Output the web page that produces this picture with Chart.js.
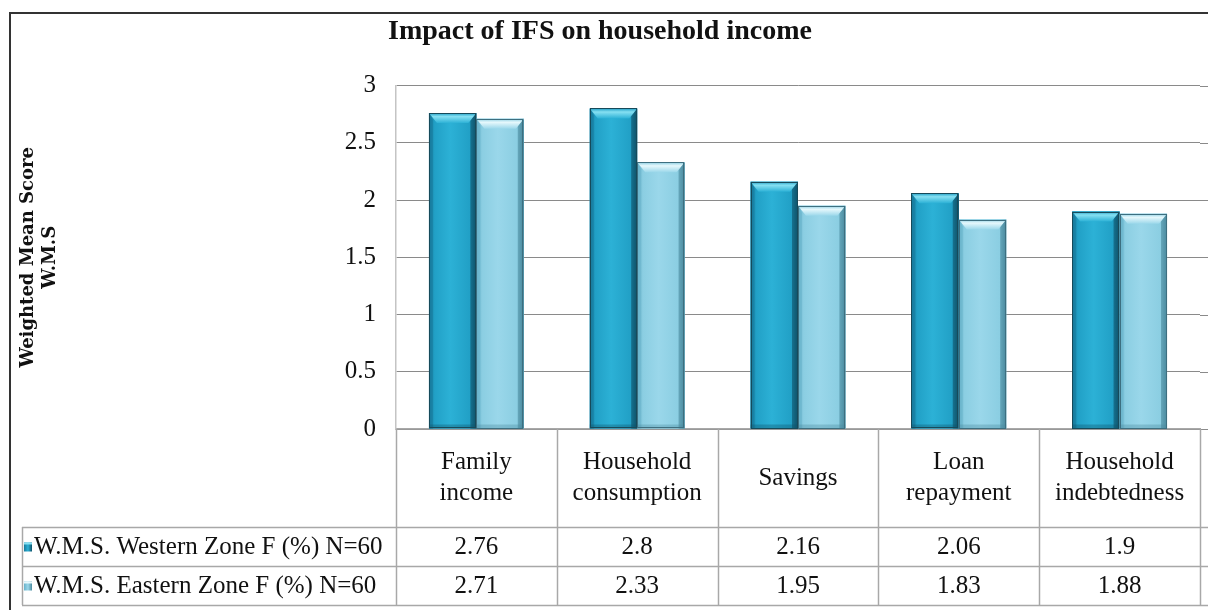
<!DOCTYPE html>
<html>
<head>
<meta charset="utf-8">
<title>Impact of IFS on household income</title>
<script src="https://cdn.jsdelivr.net/npm/chart.js@4.4.1/dist/chart.umd.min.js"></script>
<style>
  html, body { margin: 0; padding: 0; background: #fff; }
  #chart { display: block; }
</style>
</head>
<body>
<canvas id="chart" width="1208" height="610"></canvas>
<script>
// categories (multi-line header cells) and the two zones
const categories = [['Family', 'income'], ['Household', 'consumption'], ['Savings'], ['Loan', 'repayment'], ['Household', 'indebtedness']];
const seriesNames = ['W.M.S. Western Zone F (%) N=60', 'W.M.S. Eastern Zone F (%) N=60'];
const westernZone = [2.76, 2.8, 2.16, 2.06, 1.9];
const easternZone = [2.71, 2.33, 1.95, 1.83, 1.88];
const yTicks = [0, 0.5, 1, 1.5, 2, 2.5, 3];

const serif = 'Liberation Serif';

// shading for the bevelled bars
const palette = [
  { main: '#21a0c6', light: '#2cb1d6', edgeL: '#17799a', edgeR: '#0f5269', top: '#86e0f2', outline: '#164a5a' },
  { main: '#8bcee2', light: '#9ad7ea', edgeL: '#68b2ca', edgeR: '#4a8a9e', top: '#e6f8fc', outline: '#3d6f80' }
];

const bevelBars = {
  id: 'bevelBars',
  afterDatasetsDraw(chart) {
    const ctx = chart.ctx;
    chart.data.datasets.forEach((ds, i) => {
      const c = palette[i];
      chart.getDatasetMeta(i).data.forEach(bar => {
        const { x, y, base, width } = bar.getProps(['x', 'y', 'base', 'width'], true);
        const l = x - width / 2, r = x + width / 2, bv = 7;
        ctx.save();
        let g = ctx.createLinearGradient(l, 0, r, 0);
        g.addColorStop(0, c.edgeL);
        g.addColorStop(0.12, c.main);
        g.addColorStop(0.45, c.light);
        g.addColorStop(0.86, c.main);
        g.addColorStop(1, c.edgeR);
        ctx.fillStyle = g;
        ctx.fillRect(l, y, width, base - y);
        // side strips
        ctx.fillStyle = c.edgeL;
        ctx.globalAlpha = 0.55;
        ctx.beginPath();
        ctx.moveTo(l, y); ctx.lineTo(l + 4, y + bv); ctx.lineTo(l + 4, base); ctx.lineTo(l, base);
        ctx.fill();
        ctx.fillStyle = c.edgeR;
        ctx.beginPath();
        ctx.moveTo(r, y); ctx.lineTo(r - 6, y + bv); ctx.lineTo(r - 6, base); ctx.lineTo(r, base);
        ctx.fill();
        ctx.globalAlpha = 1;
        // top bevel
        g = ctx.createLinearGradient(0, y, 0, y + bv + 3);
        g.addColorStop(0, c.main);
        g.addColorStop(0.35, c.top);
        g.addColorStop(1, c.light);
        ctx.fillStyle = g;
        ctx.beginPath();
        ctx.moveTo(l, y); ctx.lineTo(r, y); ctx.lineTo(r - 8, y + bv + 3); ctx.lineTo(l + 8, y + bv + 3);
        ctx.closePath();
        ctx.fill();
        // darker foot
        ctx.fillStyle = c.edgeR;
        ctx.globalAlpha = 0.35;
        ctx.fillRect(l, base - 4, width, 4);
        ctx.globalAlpha = 1;
        ctx.strokeStyle = c.outline;
        ctx.lineWidth = 1;
        ctx.strokeRect(Math.round(l) + 0.5, Math.round(y) + 0.5, Math.round(width) - 1, Math.round(base - y) - 1);
        ctx.restore();
      });
    });
  }
};

// header cells, data table rows and frame below the plot
const dataTable = {
  id: 'dataTable',
  afterDraw(chart) {
    const ctx = chart.ctx;
    const xs = chart.scales.x, ys = chart.scales.y;
    const area = chart.chartArea;
    const step = (area.right - area.left) / categories.length;
    const rowTop = 527, rowH = 39, tableLeft = 22;
    const rows = [westernZone, easternZone];
    ctx.save();

    // grid lines continue to the right edge
    ctx.strokeStyle = '#8a8a8a';
    ctx.lineWidth = 1;
    yTicks.forEach(v => {
      const py = Math.round(ys.getPixelForValue(v)) + 0.5;
      ctx.beginPath();
      ctx.moveTo(area.right, py); ctx.lineTo(chart.width, py);
      ctx.stroke();
    });

    // table lines
    ctx.strokeStyle = '#a8a8a8';
    ctx.lineWidth = 1.5;
    for (let k = 0; k <= categories.length; k++) {
      const px = Math.round(area.left + k * step) + 0.5;
      ctx.beginPath();
      ctx.moveTo(px, area.bottom); ctx.lineTo(px, rowTop + rowH * 2);
      ctx.stroke();
    }
    for (let k = 0; k <= 2; k++) {
      const py = rowTop + k * rowH + 0.5;
      ctx.beginPath();
      ctx.moveTo(tableLeft, py); ctx.lineTo(chart.width, py);
      ctx.stroke();
    }
    ctx.beginPath();
    ctx.moveTo(tableLeft + 0.5, rowTop); ctx.lineTo(tableLeft + 0.5, rowTop + rowH * 2);
    ctx.stroke();

    // outer frame
    ctx.strokeStyle = '#333';
    ctx.lineWidth = 2;
    ctx.beginPath();
    ctx.moveTo(chart.width, 13); ctx.lineTo(10, 13); ctx.lineTo(10, chart.height);
    ctx.stroke();

    // category header text
    ctx.fillStyle = '#111';
    ctx.textAlign = 'center';
    ctx.textBaseline = 'middle';
    ctx.font = '25px "' + serif + '"';
    const midHead = (area.bottom + rowTop) / 2;
    categories.forEach((lines, k) => {
      const cx = xs.getPixelForValue(k);
      const lh = 31;
      lines.forEach((t, j) => {
        ctx.fillText(t, cx, midHead + (j - (lines.length - 1) / 2) * lh);
      });
    });

    // value rows with legend keys
    rows.forEach((vals, ri) => {
      const cy = rowTop + ri * rowH + rowH / 2 + 1;
      ctx.textAlign = 'center';
      vals.forEach((v, k) => ctx.fillText(String(v), xs.getPixelForValue(k), cy));
      const c = palette[ri];
      const g = ctx.createLinearGradient(24, 0, 32, 0);
      g.addColorStop(0, c.edgeL); g.addColorStop(0.5, c.light); g.addColorStop(1, c.edgeR);
      ctx.fillStyle = g;
      ctx.fillRect(24, cy - 5, 8, 9);
      ctx.fillStyle = c.top;
      ctx.fillRect(24, cy - 5, 8, 2);
      ctx.fillStyle = '#111';
      ctx.textAlign = 'left';
      ctx.fillText(seriesNames[ri], 34, cy);
    });
    ctx.restore();
  }
};

new Chart(document.getElementById('chart'), {
  type: 'bar',
  data: {
    labels: categories.map(l => l.join(' ')),
    datasets: [
      { label: seriesNames[0], data: westernZone, backgroundColor: palette[0].main, borderColor: palette[0].outline, borderWidth: 0 },
      { label: seriesNames[1], data: easternZone, backgroundColor: palette[1].main, borderColor: palette[1].outline, borderWidth: 0 }
    ]
  },
  options: {
    responsive: false,
    animation: false,
    devicePixelRatio: 1,
    categoryPercentage: 0.59,
    barPercentage: 1,
    layout: { padding: { left: 0, right: 8, top: 0, bottom: 83 } },
    plugins: {
      legend: { display: false },
      tooltip: { enabled: false },
      title: {
        display: true,
        text: 'Impact of IFS on household income',
        color: '#111',
        font: { family: serif, size: 28, weight: 'bold' },
        padding: { top: 15, bottom: 37 }
      }
    },
    scales: {
      x: {
        grid: { display: false },
        border: { display: true, color: '#a8a8a8', width: 1.5 },
        ticks: { display: false },
        afterFit: s => { s.height = 98; }
      },
      y: {
        min: 0,
        max: 3,
        afterBuildTicks: s => { s.ticks = yTicks.map(v => ({ value: v })); },
        grid: { color: '#8a8a8a', lineWidth: 1, drawTicks: false },
        border: { display: true, color: '#c4c4c4', width: 1.5 },
        ticks: { color: '#111', padding: 20, font: { family: serif, size: 25 }, callback: v => String(v) },
        title: {
          display: true,
          text: ['Weighted Mean Score', 'W.M.S'],
          color: '#111',
          font: { family: 'DejaVu Serif', size: 18, weight: 'bold', lineHeight: 1.2 },
          padding: { top: 18, bottom: 0 }
        },
        afterFit: s => { s.width = 396; }
      }
    }
  },
  plugins: [bevelBars, dataTable]
});
</script>
</body>
</html>
